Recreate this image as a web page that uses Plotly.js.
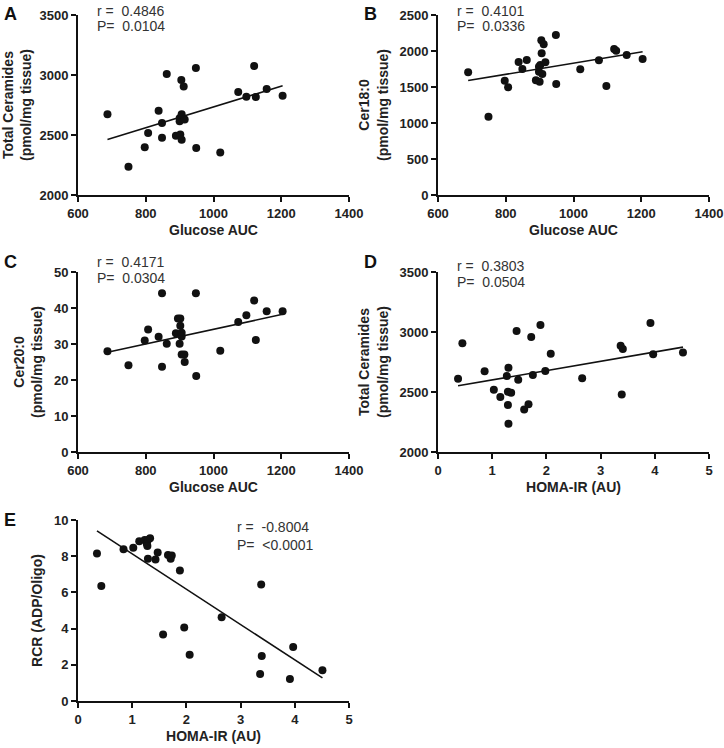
<!DOCTYPE html>
<html>
<head>
<meta charset="utf-8">
<script src="https://cdn.plot.ly/plotly-3.0.1.min.js"></script>
<style>html,body{margin:0;padding:0;background:#fff;}#chart{width:724px;height:748px;}</style>
</head>
<body>
<div id="chart"></div>
<script>
// Panel A: Glucose AUC vs Total Ceramides
const aGlucose = [687,749,797,807,838,848,848,862,889,900,900,902,906,906,905,912,915,948,949,1020,1073,1097,1120,1125,1157,1204];
const aTotalCer = [2672,2236,2397,2517,2703,2600,2478,3008,2494,2639,2614,2505,2672,2461,2958,2905,2630,3058,2392,2355,2858,2819,3075,2817,2883,2828];
// Panel B: Glucose AUC vs Cer18:0
const bGlucose = [689,749,797,807,838,849,862,889,900,898,902,905,912,906,908,917,948,949,1020,1075,1097,1120,1126,1157,1204,898];
const bCer18 = [1704,1088,1588,1495,1847,1750,1875,1593,1574,1713,1806,2148,2093,1968,1680,1843,2222,1542,1745,1870,1514,2028,2005,1944,1889,1782];
// Panel C: Glucose AUC vs Cer20:0
const cGlucose = [687,749,797,807,838,848,848,862,889,895,902,902,900,906,906,906,914,915,948,949,1020,1073,1097,1120,1125,1157,1204];
const cCer20 = [28.0,24.1,31.0,34.0,32.0,44.1,23.7,30.1,33.0,37.1,37.1,35.1,30.1,33.1,32.1,27.1,27.1,25.0,44.1,21.1,28.1,36.1,38.0,42.1,31.1,39.1,39.1];
// Panel D: HOMA-IR vs Total Ceramides
const dHoma = [0.37,0.45,0.86,1.03,1.15,1.27,1.29,1.29,1.30,1.30,1.35,1.45,1.48,1.59,1.67,1.72,1.75,1.89,1.98,2.08,2.66,3.37,3.41,3.39,3.92,3.97,4.52];
const dTotalCer = [2611,2906,2672,2519,2458,2633,2503,2392,2703,2236,2494,3008,2603,2355,2397,2958,2642,3058,2675,2819,2614,2886,2858,2480,3075,2814,2830];
// Panel E: HOMA-IR vs RCR
const eHoma = [0.35,0.43,0.84,1.02,1.13,1.23,1.27,1.29,1.28,1.33,1.29,1.43,1.47,1.57,1.66,1.71,1.73,1.88,1.96,2.06,2.65,3.38,3.36,3.39,3.91,3.97,4.51];
const eRCR = [8.15,6.35,8.39,8.47,8.82,8.89,8.69,8.89,8.56,8.99,7.86,7.82,8.21,3.67,8.06,7.86,8.04,7.21,4.06,2.55,4.63,6.44,1.49,2.49,1.22,2.99,1.70];

const panelLetters = ['A','B','C','D','E'];
const statR = ['r =  0.4846','r =  0.4101','r =  0.4171','r =  0.3803','r =  -0.8004'];
const statP = ['P=  0.0104','P=  0.0336','P=  0.0304','P=  0.0504','P=  <0.0001'];
const xTitles = ['Glucose AUC','Glucose AUC','Glucose AUC','HOMA-IR (AU)','HOMA-IR (AU)'];
const yTitles = ['Total Ceramides<br>(pmol/mg tissue)','Cer18:0<br>(pmol/mg tissue)','Cer20:0<br>(pmol/mg tissue)','Total Ceramides<br>(pmol/mg tissue)','RCR (ADP/Oligo)'];

const W = 724, H = 748;
function fit(xs, ys){
  const n = xs.length;
  const mx = xs.reduce((a,b)=>a+b,0)/n, my = ys.reduce((a,b)=>a+b,0)/n;
  let sxy=0,sxx=0;
  for(let i=0;i<n;i++){sxy+=(xs[i]-mx)*(ys[i]-my);sxx+=(xs[i]-mx)*(xs[i]-mx);}
  const b = sxy/sxx, a = my-b*mx;
  const x0 = Math.min(...xs), x1 = Math.max(...xs);
  return {x:[x0,x1], y:[a+b*x0, a+b*x1]};
}
const sets = [[aGlucose,aTotalCer],[bGlucose,bCer18],[cGlucose,cCer20],[dHoma,dTotalCer],[eHoma,eRCR]];
const traces = [];
sets.forEach((s,i)=>{
  const ax = i===0 ? '' : String(i+1);
  traces.push({x:s[0], y:s[1], type:'scatter', mode:'markers', xaxis:'x'+ax, yaxis:'y'+ax,
    marker:{color:'#111', size:8}, showlegend:false, hoverinfo:'skip'});
  const f = fit(s[0], s[1]);
  traces.push({x:f.x, y:f.y, type:'scatter', mode:'lines', xaxis:'x'+ax, yaxis:'y'+ax,
    line:{color:'#111', width:1.6}, showlegend:false, hoverinfo:'skip'});
});

const tickFont = {family:'Liberation Sans, Arial, sans-serif', size:13, color:'#222', weight:700};
const titleFont = {family:'Liberation Sans, Arial, sans-serif', size:14, color:'#222', weight:700};
function xa(d0,d1,range,dtick,title){
  return {domain:[d0/W,d1/W], range:range, dtick:dtick, tick0:range[0], showline:true, linecolor:'#111', linewidth:2,
    ticks:'outside', ticklen:5, tickwidth:2, tickcolor:'#111', showgrid:false, zeroline:false, fixedrange:true,
    tickprefix:'<b>', ticksuffix:'</b>',
    tickfont:tickFont, title:{text:title, font:titleFont, standoff:6}};
}
function ya(top,bot,range,dtick,title){
  return {domain:[1-bot/H,1-top/H], range:range, dtick:dtick, tick0:range[0], showline:true, linecolor:'#111', linewidth:2,
    ticks:'outside', ticklen:5, tickwidth:2, tickcolor:'#111', showgrid:false, zeroline:false, fixedrange:true,
    tickprefix:'<b>', ticksuffix:'</b>',
    tickfont:tickFont, title:{text:title, font:titleFont, standoff:8}};
}
const layout = {
  width:W, height:H, margin:{l:0,r:0,t:0,b:0}, paper_bgcolor:'#fff', plot_bgcolor:'#fff',
  xaxis: xa(78,349,[600,1400],200,xTitles[0]), yaxis: ya(15,195,[2000,3500],500,yTitles[0]),
  xaxis2: xa(438,709,[600,1400],200,xTitles[1]), yaxis2: ya(15,195,[0,2500],500,yTitles[1]),
  xaxis3: xa(78,349,[600,1400],200,xTitles[2]), yaxis3: ya(272,452,[0,50],10,yTitles[2]),
  xaxis4: xa(438,709,[0,5],1,xTitles[3]), yaxis4: ya(272,452,[2000,3500],500,yTitles[3]),
  xaxis5: xa(78,349,[0,5],1,xTitles[4]), yaxis5: ya(520,701,[0,10],2,yTitles[4]),
  annotations: []
};
layout.xaxis.anchor='y'; layout.yaxis.anchor='x';
for(let i=2;i<=5;i++){layout['xaxis'+i].anchor='y'+i; layout['yaxis'+i].anchor='x'+i;}

const letterPos = [[10,14],[370,14],[10,262],[370,262],[10,520]];
const statPos = [[95,11,26.5],[455,11,26.5],[95,262,278],[455,266,282],[235,527,545]];
const annFont = {family:'Liberation Sans, Arial, sans-serif', size:14, color:'#333'};
panelLetters.forEach((L,i)=>{
  layout.annotations.push({text:L, xref:'paper', yref:'paper', x:letterPos[i][0]/W, y:1-letterPos[i][1]/H,
    xanchor:'center', yanchor:'middle', showarrow:false,
    font:{family:'Liberation Sans, Arial, sans-serif', size:18, color:'#111', weight:700}});
  layout.annotations.push({text:statR[i], xref:'paper', yref:'paper', x:statPos[i][0]/W, y:1-statPos[i][1]/H,
    xanchor:'left', yanchor:'middle', showarrow:false, font:annFont});
  layout.annotations.push({text:statP[i], xref:'paper', yref:'paper', x:statPos[i][0]/W, y:1-statPos[i][2]/H,
    xanchor:'left', yanchor:'middle', showarrow:false, font:annFont});
});

Plotly.newPlot('chart', traces, layout, {displayModeBar:false, staticPlot:true});
</script>
</body>
</html>
